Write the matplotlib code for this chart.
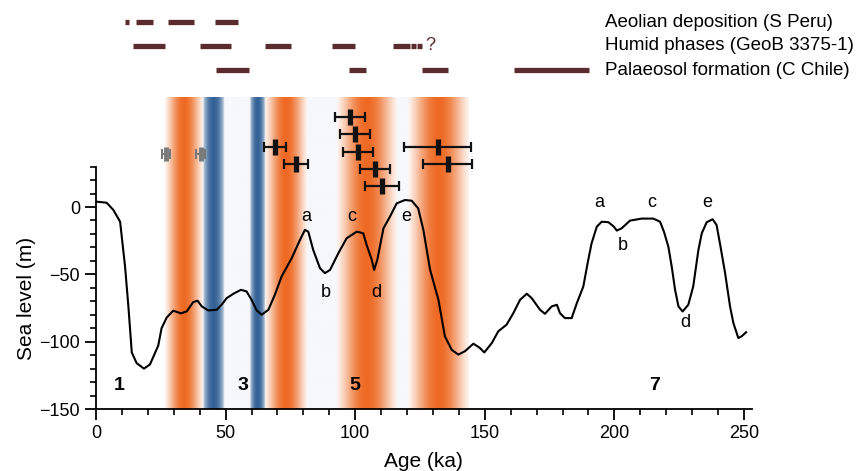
import numpy as np
import matplotlib
matplotlib.use("Agg")
import matplotlib.pyplot as plt
from matplotlib.ticker import MultipleLocator

plt.rcParams['font.family'] = ['Liberation Sans', 'DejaVu Sans']

# ---------------- data ----------------
age = [0, 4.1, 6.7, 9.3, 11.2, 12.5, 13.8, 15.7, 18.5, 20.8, 24.0, 25.3, 27.3, 29.8, 32.8, 35.0,
       37.5, 39.2, 40.8, 43.3, 46.6, 48.7, 50.4, 53.0, 55.9, 58.1, 60.0, 62.0, 63.9, 66.5, 69.0,
       71.6, 75.5, 78.7, 80.6, 81.9, 83.8, 86.4, 88.3, 90.3, 93.5, 96.7, 100.6, 103.1, 104.4,
       106.4, 107.3, 108.5, 110.9, 113.4, 116.0, 119.2, 121.8, 124.3, 126.3, 128.9, 132.1, 134.6,
       137.2, 139.8, 142.4, 145.6, 148.0, 149.8, 152.7, 155.2, 158.4, 161.0, 163.6, 166.2, 168.1,
       171.3, 173.2, 175.8, 177.8, 179.0, 180.9, 183.5, 185.5, 188.0, 189.9, 191.2, 193.2, 195.1,
       197.7, 199.8, 200.9, 202.8, 206.0, 210.5, 215.0, 217.6, 219.1, 220.8, 222.1, 223.4, 224.7,
       226.3, 228.5, 230.4, 232.4, 233.7, 235.6, 237.9, 239.4, 240.7, 242.7, 244.6, 245.9, 247.8,
       249.1, 250.8]
sea_level = [4, 3.2, -2.2, -10.9, -44, -74, -108, -116, -120, -117, -103, -90, -82, -77, -79, -77.5,
             -70.6, -69.6, -73.8, -76.8, -76.3, -72, -67.7, -64.4, -61.5, -62.7, -68.9, -76.8, -80,
             -76.3, -65.2, -51.6, -38, -24.4, -17, -18.3, -31.9, -45.4, -49.1, -46.7, -34.3, -23.2,
             -18.3, -19.5, -28.1, -39.3, -46.7, -39.3, -15.8, -7.2, 2.7, 5.2, 4.7, -1, -17, -46.7,
             -68.9, -96, -106, -109.6, -107, -101.5, -104.5, -108, -101, -92.3, -87.4, -78.8, -68.9,
             -64.4, -67.7, -76.3, -79.3, -73.8, -72.6, -78.8, -82.5, -82.5, -71.4, -59, -39.3, -26.9,
             -14.6, -10.9, -11.3, -14.6, -17.5, -15.8, -10.1, -8.6, -8.6, -10.9, -18.3, -29.4, -44.2,
             -61.5, -73.8, -77.6, -72.6, -59, -31.9, -19.5, -11.3, -9.1, -13.3, -26.9, -49.1, -73.8,
             -86.2, -97.3, -96, -93]

# shaded bands (ka)
orange_bands = [(26.6, 41.3), (65.2, 81.4), (93.0, 116.0), (120.5, 143.8)]
blue_bands = [(41.3, 49.4), (59.4, 65.2)]
pale_bands = [(49.4, 59.4), (81.4, 93.0), (116.0, 120.5)]

# dated points with age uncertainties
grey_age = [27.0, 40.4]
grey_y = [39.3, 39.3]
grey_err = [1.7, 1.7]
pt_age = [69.1, 77.0, 98.1, 99.8, 100.9, 107.5, 110.3, 131.8, 135.7]
pt_y = [44.7, 31.9, 66.9, 54.1, 41.0, 27.9, 15.8, 44.7, 31.9]
pt_err = [4.2, 4.6, 5.8, 5.8, 5.8, 5.8, 6.5, 12.9, 9.4]

# proxy records (start, end ka)
proxy_labels = ["Aeolian deposition (S Peru)", "Humid phases (GeoB 3375-1)", "Palaeosol formation (C Chile)"]
aeolian = [(11.2, 12.6), (15.4, 21.9), (27.8, 37.8), (45.9, 54.8)]
humid = [(14.1, 26.7), (40.0, 52.0), (65.1, 75.4), (90.9, 99.9), (114.5, 121.3), (121.7, 123.4), (123.8, 125.6)]
palaeosol = [(46.3, 58.9), (97.6, 104.2), (125.8, 135.8), (161.3, 190.2)]

mis_labels = ["1", "3", "5", "7"]
mis_age = [8.9, 56.7, 100.0, 215.3]
peak_labels = ["a", "b", "c", "d", "e", "a", "b", "c", "d", "e"]
peak_age = [81.0, 88.7, 98.8, 108.0, 119.6, 194.0, 203.3, 214.5, 227.2, 235.7]
peak_y = [-7.4, -63.7, -7.4, -63.7, -7.4, 3.0, -28.9, 3.0, -86.0, 3.0]

# ---------------- figure ----------------
fig = plt.figure(figsize=(8.59, 4.71), dpi=100)
ax = fig.add_axes([96 / 859, 62 / 471, 655.8 / 859, 312.4 / 471])
XMAX, YMIN, YMAX = 253, -150, 82

# band image (covers only the shaded part of the age range)
X0, X1 = 20, 150
xs = np.linspace(X0, X1, 2600)
img = np.ones((1, xs.size, 3))
pale = np.array([246, 248, 252]) / 255
orange = np.array([238, 106, 36]) / 255
blue = np.array([52, 98, 150]) / 255
white = np.ones(3)

def intensity(t, edge, power):
    return edge + (1 - edge) * np.cos(np.pi / 2 * np.clip(t, 0, 1)) ** power

for a, b in pale_bands:
    m = (xs >= a) & (xs <= b)
    img[0, m] = pale
for bands, col, edge, power in [(orange_bands, orange, 0.08, 1.3), (blue_bands, blue, 0.1, 0.6)]:
    for a, b in bands:
        c, hw = (a + b) / 2, (b - a) / 2
        m = (xs >= a) & (xs <= b)
        t = np.abs(xs[m] - c) / hw
        i = intensity(t, edge, power)[:, None]
        img[0, m] = white * (1 - i) + col * i

ax.imshow(img, extent=[X0, X1, YMIN, YMAX], aspect='auto', interpolation='bilinear', zorder=0)
ax.set_xlim(0, XMAX)
ax.set_ylim(YMIN, YMAX)

ax.plot(age, sea_level, color='black', lw=1.5, zorder=3, solid_joinstyle='round')

ax.errorbar(grey_age, grey_y, xerr=grey_err, fmt='none', ecolor='#7a7a7a',
            elinewidth=1.5, capsize=3.5, capthick=1.5, zorder=4)
ax.plot(grey_age, grey_y, ls='none', marker='|', color='#7a7a7a', ms=10, mew=3.5, zorder=5)
ax.errorbar(pt_age, pt_y, xerr=pt_err, fmt='none', ecolor='#111111',
            elinewidth=1.6, capsize=3.5, capthick=1.6, zorder=4)
ax.plot(pt_age, pt_y, ls='none', marker='|', color='#111111', ms=11.5, mew=3.8, zorder=5)

for lab, x, y in zip(peak_labels, peak_age, peak_y):
    ax.text(x, y, lab, ha='center', va='center', fontsize=13, zorder=5)
for lab, x in zip(mis_labels, mis_age):
    ax.text(x, -132.6, lab, ha='center', va='center', fontsize=14, fontweight='bold', zorder=5)

# proxy bars above the axes
maroon = '#5C2B2F'
row_y = [137.4, 119.6, 101.7]
for rec, y in zip([aeolian, humid, palaeosol], row_y):
    for a, b in rec:
        ax.plot([a, b], [y, y], color=maroon, lw=3.8, solid_capstyle='butt', clip_on=False)
ax.text(128.9, row_y[1], "?", color=maroon, fontsize=13, ha='center', va='center', clip_on=False)
for lab, y in zip(proxy_labels, row_y):
    ax.text(196.4, y, lab, fontsize=13.5, ha='left', va='center', clip_on=False)

# axes styling
for s in ['top', 'right']:
    ax.spines[s].set_visible(False)
ax.spines['left'].set_bounds(-150, 30)
ax.spines['left'].set_linewidth(1.3)
ax.spines['bottom'].set_linewidth(1.3)
ax.set_xticks([0, 50, 100, 150, 200, 250])
ax.xaxis.set_minor_locator(MultipleLocator(10))
ax.set_yticks([-150, -100, -50, 0])
ax.set_yticks(np.arange(-150, 31, 10), minor=True)
ax.tick_params(which='major', direction='out', length=8, width=1.3, labelsize=13)
ax.tick_params(which='minor', direction='out', length=4, width=1.2)
ax.set_xlabel("Age (ka)", fontsize=15, labelpad=7)
ax.set_ylabel("Sea level (m)", fontsize=15)
ax.yaxis.set_label_coords(-0.092, (-68 - YMIN) / (YMAX - YMIN))

fig.savefig("out.png", dpi=100)
